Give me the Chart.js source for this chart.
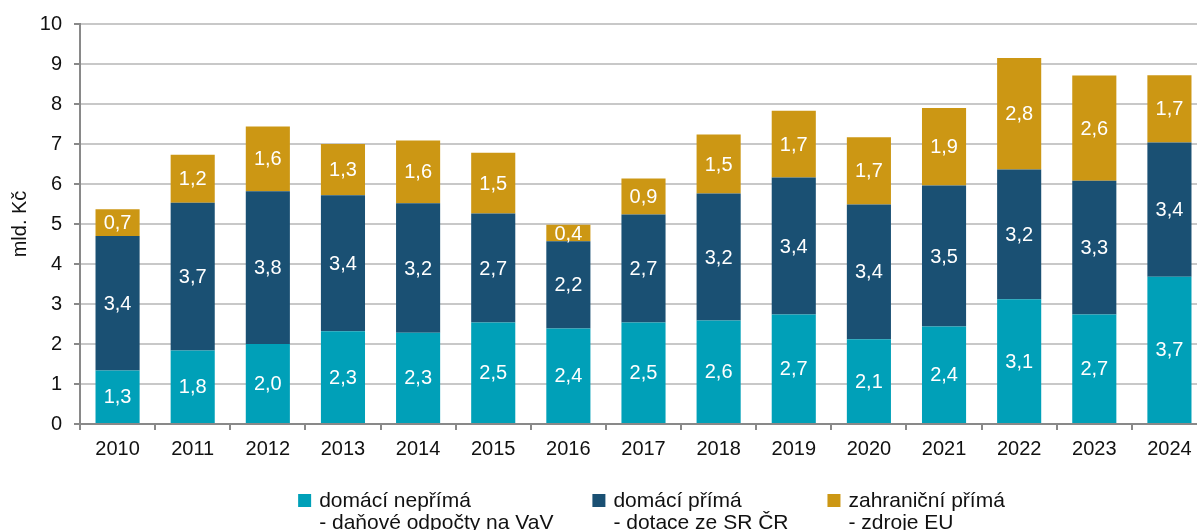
<!DOCTYPE html>
<html lang="cs">
<head>
<meta charset="utf-8">
<script src="https://cdn.jsdelivr.net/npm/chart.js@4.4.1/dist/chart.umd.min.js"></script>
<style>
  html, body { margin: 0; padding: 0; overflow: hidden; background: #fff; }
  #obal { width: 1207px; height: 530px; }
</style>
</head>
<body>
<div id="obal"><canvas id="grafPodpora"></canvas></div>
<script>
const roky = ["2010", "2011", "2012", "2013", "2014", "2015", "2016", "2017", "2018", "2019", "2020", "2021", "2022", "2023", "2024"];

// mld. Kč
const domaciNeprima = [1.34, 1.84, 2.00, 2.32, 2.28, 2.54, 2.39, 2.54, 2.59, 2.74, 2.12, 2.44, 3.12, 2.74, 3.68];
const domaciPrima = [3.36, 3.69, 3.82, 3.40, 3.24, 2.72, 2.18, 2.70, 3.17, 3.42, 3.37, 3.52, 3.24, 3.34, 3.36];
const zahranicniPrima = [0.67, 1.20, 1.62, 1.28, 1.57, 1.52, 0.41, 0.90, 1.48, 1.67, 1.68, 1.94, 2.79, 2.63, 1.68];

const nazvy = [
  ["domácí nepřímá", "- daňové odpočty na VaV"],
  ["domácí přímá", "- dotace ze SR ČR"],
  ["zahraniční přímá", "- zdroje EU"]
];
const barvy = ["#00a0b8", "#1a5073", "#cc9714"];

const pismo = '"Liberation Sans", Arial, sans-serif';
Chart.defaults.font.family = pismo;
Chart.defaults.color = "#111";

// popisky hodnot uvnitr sloupcu
const hodnotyPlugin = {
  id: "hodnoty",
  afterDatasetsDraw(chart) {
    const ctx = chart.ctx;
    ctx.save();
    ctx.font = "20px " + pismo;
    ctx.fillStyle = "#fff";
    ctx.textAlign = "center";
    ctx.textBaseline = "middle";
    chart.data.datasets.forEach((ds, i) => {
      chart.getDatasetMeta(i).data.forEach((bar, j) => {
        const text = ds.data[j].toFixed(1).replace(".", ",");
        ctx.fillText(text, bar.x, (bar.y + bar.base) / 2 + 1);
      });
    });
    ctx.restore();
  }
};

// legenda se dvema radky
const legendaPlugin = {
  id: "legenda",
  afterDraw(chart) {
    const { ctx, chartArea } = chart;
    ctx.save();
    ctx.font = "21px " + pismo;
    const box = 13, gap = 8, mezera = 39;
    const sirky = nazvy.map(r => box + gap + Math.max(...r.map(t => ctx.measureText(t).width)));
    const celkem = sirky.reduce((a, b) => a + b, 0) + mezera * (sirky.length - 1);
    let x = (chartArea.left + chartArea.right) / 2 + 8 - celkem / 2;
    const y = chartArea.bottom + 70;
    chart.data.datasets.forEach((ds, i) => {
      ctx.fillStyle = ds.backgroundColor;
      ctx.fillRect(x, y, box, box);
      ctx.fillStyle = "#111";
      ctx.textBaseline = "alphabetic";
      nazvy[i].forEach((t, j) => ctx.fillText(t, x + box + gap, y + 13 + j * 22));
      x += sirky[i] + mezera;
    });
    ctx.restore();
  }
};

const graf = new Chart(document.getElementById("grafPodpora"), {
  type: "bar",
  data: {
    labels: roky,
    datasets: [
      { label: nazvy[0].join(" "), data: domaciNeprima, backgroundColor: barvy[0] },
      { label: nazvy[1].join(" "), data: domaciPrima, backgroundColor: barvy[1] },
      { label: nazvy[2].join(" "), data: zahranicniPrima, backgroundColor: barvy[2] }
    ]
  },
  options: {
    responsive: true,
    maintainAspectRatio: false,
    animation: false,
    layout: { padding: { left: 4, top: 21, right: 0, bottom: 62 } },
    datasets: { bar: { categoryPercentage: 1, barPercentage: 0.587 } },
    plugins: {
      legend: { display: false },
      tooltip: { enabled: false }
    },
    scales: {
      x: {
        stacked: true,
        border: { color: "#898989", width: 2 },
        grid: { drawOnChartArea: false, tickLength: 6, tickColor: "#898989", lineWidth: 2 },
        ticks: { font: { size: 20 }, padding: 7, color: "#111" }
      },
      y: {
        stacked: true,
        min: 0,
        max: 10,
        afterFit(scale) { scale.width = 76; },
        border: { color: "#898989", width: 2 },
        grid: { color: "#c8c8c8", lineWidth: 2, tickLength: 6, tickColor: "#898989" },
        ticks: { stepSize: 1, font: { size: 20 }, padding: 12, color: "#111" },
        title: { display: true, text: "mld. Kč", font: { size: 20 }, color: "#111", padding: { top: 4, bottom: 4 } }
      }
    }
  },
  plugins: [hodnotyPlugin, legendaPlugin]
});
</script>
</body>
</html>
